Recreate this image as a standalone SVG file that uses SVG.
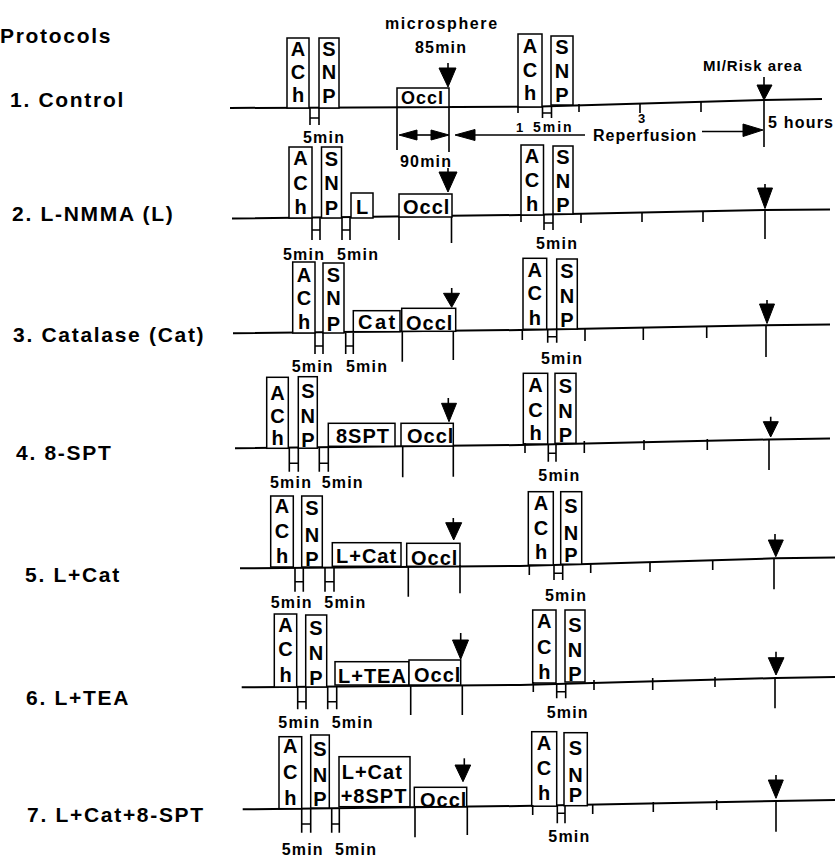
<svg xmlns="http://www.w3.org/2000/svg" width="835" height="858" viewBox="0 0 835 858">
<style>
text{font-family:"Liberation Sans",Arial,sans-serif;font-weight:bold;fill:#000}
.lab{font-size:21px;letter-spacing:1.7px}
.s{font-size:16px;letter-spacing:1.2px}
.v{font-size:20px;text-anchor:middle}
.bx{font-size:20px;letter-spacing:1px}
.ln{stroke:#000;stroke-width:1.6;fill:none}
.base{stroke:#000;stroke-width:2;fill:none}
.box{fill:#fff;stroke:#000;stroke-width:1.5}
.tri{fill:#000;stroke:#000;stroke-width:1}
</style>
<rect width="835" height="858" fill="#fff"/>

<g id="labels">
<text class="lab" x="0" y="43">Protocols</text>
<text class="lab" x="10" y="107">1. Control</text>
<text class="lab" x="12" y="221">2. L-NMMA (L)</text>
<text class="lab" x="13" y="342">3. Catalase (Cat)</text>
<text class="lab" x="16" y="460">4. 8-SPT</text>
<text class="lab" x="25" y="582">5. L+Cat</text>
<text class="lab" x="26" y="705">6. L+TEA</text>
<text class="lab" x="27" y="822">7. L+Cat+8-SPT</text>
</g>

<g id="row1">
<polyline class="base" points="230,108 540,106.5 764,100 822,99"/>
<rect class="box" x="287" y="38" width="22" height="70"/>
<text class="v" x="298" y="56">A</text><text class="v" x="298" y="79">C</text><text class="v" x="298" y="102">h</text>
<rect class="box" x="319" y="38" width="20" height="70"/>
<text class="v" x="329" y="56">S</text><text class="v" x="329" y="79">N</text><text class="v" x="329" y="103">P</text>
<path class="ln" d="M310,108V125M319,108V125M310,118H319"/>
<text class="s" x="303" y="143">5min</text>
<rect class="box" x="397" y="88" width="52" height="19"/>
<text class="bx" x="401" y="104" style="font-size:18px">Occl</text>
<text class="s" x="385" y="29" style="letter-spacing:1.6px">microsphere</text>
<text class="s" x="415" y="53">85min</text>
<path class="ln" d="M448,63V70"/>
<path class="tri" d="M439,68H456L448,87Z"/>
<path class="ln" d="M397,107V150M449,107V152"/>
<text class="s" x="400" y="167">90min</text>
<rect class="box" x="518" y="34" width="24" height="73"/>
<text class="v" x="530" y="53">A</text><text class="v" x="530" y="77">C</text><text class="v" x="530" y="100">h</text>
<rect class="box" x="551" y="36" width="22" height="69"/>
<text class="v" x="562" y="54">S</text><text class="v" x="562" y="78">N</text><text class="v" x="562" y="102">P</text>
<path class="ln" d="M542.5,106V118M551.5,106V118M542.5,113H551.5"/>
<path class="ln" d="M518,106V113M579,104V112M640,103V113M701,102V112"/>
<path class="ln" d="M764,77V86M764,100V147"/>
<path class="tri" d="M757,85H772L764,100Z"/>
<text class="s" x="703" y="71" style="font-size:15px;letter-spacing:1px">MI/Risk area</text>
<text class="s" x="768" y="128">5 hours</text>
<text class="s" x="516" y="132" style="font-size:13px">1</text>
<text class="s" x="533" y="132" style="font-size:14px;letter-spacing:2px">5min</text>
<text class="s" x="638" y="123" style="font-size:13px">3</text>
<text class="s" x="593" y="141" style="letter-spacing:1px">Reperfusion</text>
</g>

<g id="connectors">
<path class="ln" d="M412,135H434"/>
<path class="tri" d="M399,135L417,130V140Z"/>
<path class="tri" d="M449,135L431,130V140Z"/>
<path class="ln" d="M470,135H585"/>
<path class="tri" d="M455,135L475,129.5V140.5Z"/>
<path class="ln" d="M702,131.5H748"/>
<path class="tri" d="M763,130L743,124V136.5Z"/>
</g>

<g id="row2">
<polyline class="base" points="232,218.5 520,215 764,210 830,209.5"/>
<rect class="box" x="289" y="147" width="23" height="71"/>
<text class="v" x="300.5" y="165">A</text><text class="v" x="300.5" y="190">C</text><text class="v" x="300.5" y="214">h</text>
<rect class="box" x="321.5" y="147" width="20" height="71"/>
<text class="v" x="331.5" y="166">S</text><text class="v" x="331.5" y="190">N</text><text class="v" x="331.5" y="215">P</text>
<path class="ln" d="M312,218V240M320,218V240M312,230H320M342,218V240M350,218V240M342,230H350"/>
<text class="s" x="283" y="260">5min</text><text class="s" x="337" y="260">5min</text>
<rect class="box" x="351" y="193" width="22" height="25"/>
<text class="bx" x="356" y="214">L</text>
<rect class="box" x="399" y="194" width="53" height="23"/>
<text class="bx" x="403" y="214">Occl</text>
<path class="ln" d="M448,168V173"/>
<path class="tri" d="M439,172H457L448,192Z"/>
<path class="ln" d="M399,217V240M451.5,217V243"/>
<rect class="box" x="521" y="145" width="22.5" height="70"/>
<text class="v" x="532" y="163">A</text><text class="v" x="532" y="187">C</text><text class="v" x="532" y="211">h</text>
<rect class="box" x="553" y="146" width="20" height="68"/>
<text class="v" x="563" y="164">S</text><text class="v" x="563" y="188">N</text><text class="v" x="563" y="212">P</text>
<path class="ln" d="M544,214V230M553,214V230M544,223H553"/>
<text class="s" x="536" y="249">5min</text>
<path class="ln" d="M521,215V222M581,214V223M642,213V222M703,212V222"/>
<path class="ln" d="M765,184V189M765,209V239"/>
<path class="tri" d="M757.5,188H772.5L765,208.5Z"/>
</g>

<g id="row3">
<polyline class="base" points="233,333.3 520,330 764,325.3 830,324.5"/>
<rect class="box" x="292.7" y="262" width="22.3" height="71"/>
<text class="v" x="304" y="281.7">A</text><text class="v" x="304" y="305">C</text><text class="v" x="304" y="329">h</text>
<rect class="box" x="323" y="263" width="21" height="70"/>
<text class="v" x="333.5" y="281.7">S</text><text class="v" x="333.5" y="305">N</text><text class="v" x="333.5" y="330.5">P</text>
<path class="ln" d="M315,333V354M323,333V354M315,346H323M345.7,333V354M353.3,333V354M345.7,346H353.3"/>
<text class="s" x="291.7" y="372">5min</text><text class="s" x="346" y="372">5min</text>
<rect class="box" x="353.3" y="310.7" width="46.7" height="21"/>
<text class="bx" x="358" y="329" style="letter-spacing:2.5px">Cat</text>
<rect class="box" x="401.7" y="308.3" width="54" height="23"/>
<text class="bx" x="406" y="330">Occl</text>
<path class="ln" d="M451.7,288V294"/>
<path class="tri" d="M443.5,293.3H459.5L451.7,307.3Z"/>
<path class="ln" d="M402.3,331V361.7M453.3,331V360"/>
<rect class="box" x="523" y="258.3" width="23.7" height="71"/>
<text class="v" x="534.8" y="276.7">A</text><text class="v" x="534.8" y="300">C</text><text class="v" x="534.8" y="325">h</text>
<rect class="box" x="556.7" y="259" width="20.6" height="70"/>
<text class="v" x="567" y="278.3">S</text><text class="v" x="567" y="302.7">N</text><text class="v" x="567" y="326.7">P</text>
<path class="ln" d="M547.7,329V342.7M556.7,329V342.7M547.7,336.7H556.7"/>
<text class="s" x="541" y="364">5min</text>
<path class="ln" d="M522.3,330V340M585,328V341M643.3,327V340M706.7,326V338"/>
<path class="ln" d="M767,300V305M766,325V357"/>
<path class="tri" d="M759.5,304H774.5L767,323.5Z"/>
</g>

<g id="row4">
<polyline class="base" points="235,448.3 520,445 768,439.5 830,438.5"/>
<rect class="box" x="266.7" y="377.3" width="21.6" height="71"/>
<text class="v" x="277.5" y="400">A</text><text class="v" x="277.5" y="423.3">C</text><text class="v" x="277.5" y="445">h</text>
<rect class="box" x="298.3" y="376.7" width="19" height="71.5"/>
<text class="v" x="307.8" y="398.3">S</text><text class="v" x="307.8" y="423.3">N</text><text class="v" x="307.8" y="447">P</text>
<path class="ln" d="M289.3,448V471.7M298.3,448V471.7M289.3,463.3H298.3M319.3,448V471.7M328.3,448V471.7M319.3,463.3H328.3"/>
<text class="s" x="270" y="488.3">5min</text><text class="s" x="321.7" y="488.3">5min</text>
<rect class="box" x="328.3" y="423.3" width="66.7" height="23"/>
<text class="bx" x="336" y="443">8SPT</text>
<rect class="box" x="401" y="423.3" width="52.3" height="22.7"/>
<text class="bx" x="407" y="443">Occl</text>
<path class="ln" d="M448.3,398V404"/>
<path class="tri" d="M441.5,403.3H456.5L449,421.7Z"/>
<path class="ln" d="M402.7,446V477.3M453.3,446V476.7"/>
<rect class="box" x="523.3" y="373.3" width="24.4" height="70.7"/>
<text class="v" x="535.5" y="391.7">A</text><text class="v" x="535.5" y="416.7">C</text><text class="v" x="535.5" y="440">h</text>
<rect class="box" x="555" y="373.3" width="21" height="70"/>
<text class="v" x="565.5" y="393.3">S</text><text class="v" x="565.5" y="418.3">N</text><text class="v" x="565.5" y="442">P</text>
<path class="ln" d="M548.3,444V461.7M556,444V461.7M548.3,453.3H556"/>
<text class="s" x="538.3" y="480.7">5min</text>
<path class="ln" d="M525,443V453M584.3,441V453M644,440V450M707.3,439V450"/>
<path class="ln" d="M770.7,416.7V422M769,439.5V470"/>
<path class="tri" d="M763.3,421.7H778.3L770.7,437Z"/>
</g>

<g id="row5">
<polyline class="base" points="240,568.3 520,566 775,558.3 835,557.5"/>
<rect class="box" x="270.7" y="496" width="22.6" height="71"/>
<text class="v" x="282" y="513.3">A</text><text class="v" x="282" y="538.3">C</text><text class="v" x="282" y="563.3">h</text>
<rect class="box" x="301.7" y="496" width="20.6" height="71"/>
<text class="v" x="312" y="515">S</text><text class="v" x="312" y="541.7">N</text><text class="v" x="312" y="566">P</text>
<path class="ln" d="M295,567V591.7M303.3,567V591.7M295,581.7H303.3M325,567V591.7M334,567V591.7M325,581.7H334"/>
<text class="s" x="270.7" y="608.3">5min</text><text class="s" x="324.3" y="608.3">5min</text>
<rect class="box" x="332.3" y="542.7" width="68.7" height="23.6"/>
<text class="bx" x="336" y="563.3">L+Cat</text>
<rect class="box" x="406.7" y="543.3" width="53.3" height="23"/>
<text class="bx" x="411" y="565">Occl</text>
<path class="ln" d="M453.3,518V523"/>
<path class="tri" d="M445.7,522.7H461.7L453.7,540Z"/>
<path class="ln" d="M408.3,567V596.7M460,565V593.3"/>
<rect class="box" x="528.3" y="491.7" width="25" height="73.3"/>
<text class="v" x="541" y="510">A</text><text class="v" x="541" y="535">C</text><text class="v" x="541" y="559.3">h</text>
<rect class="box" x="560.7" y="491.7" width="21" height="72.5"/>
<text class="v" x="571" y="513.3">S</text><text class="v" x="571" y="540">N</text><text class="v" x="571" y="561.7">P</text>
<path class="ln" d="M554,565V580M562.7,565V580M554,573.3H562.7"/>
<text class="s" x="545" y="600.7">5min</text>
<path class="ln" d="M529.3,565V575M590.7,563V573M650,562V572M712.7,560V570"/>
<path class="ln" d="M775,534V541M774,558V589.3"/>
<path class="tri" d="M768.3,540H783.3L775.8,556.7Z"/>
</g>

<g id="row6">
<polyline class="base" points="241.7,687.3 520,685 776,678 835,677"/>
<rect class="box" x="274.3" y="614" width="22.4" height="73"/>
<text class="v" x="285.5" y="631.7">A</text><text class="v" x="285.5" y="656">C</text><text class="v" x="285.5" y="681.7">h</text>
<rect class="box" x="305.7" y="615" width="21" height="72"/>
<text class="v" x="316" y="635">S</text><text class="v" x="316" y="660">N</text><text class="v" x="316" y="685">P</text>
<path class="ln" d="M297.7,687V709.3M306,687V709.3M297.7,701.7H306M327.7,687V709.3M336.7,687V709.3M327.7,701.7H336.7"/>
<text class="s" x="278.3" y="728.3">5min</text><text class="s" x="331.7" y="728.3">5min</text>
<rect class="box" x="335" y="661.7" width="74" height="23.3"/>
<text class="bx" x="338" y="683.3">L+TEA</text>
<rect class="box" x="409" y="660" width="51.7" height="25"/>
<text class="bx" x="414" y="681.7">Occl</text>
<path class="ln" d="M460.7,633V641"/>
<path class="tri" d="M452.5,640H468.5L460.7,659.3Z"/>
<path class="ln" d="M410.7,685V715M462.3,685V715"/>
<rect class="box" x="532.7" y="610" width="23.3" height="73"/>
<text class="v" x="544.3" y="628.3">A</text><text class="v" x="544.3" y="654">C</text><text class="v" x="544.3" y="679.3">h</text>
<rect class="box" x="565" y="610" width="20" height="72"/>
<text class="v" x="575" y="631.7">S</text><text class="v" x="575" y="656.7">N</text><text class="v" x="575" y="680.7">P</text>
<path class="ln" d="M556.7,683V698.3M565.7,683V698.3M556.7,691.7H565.7"/>
<text class="s" x="546.7" y="718.3">5min</text>
<path class="ln" d="M533.3,682V692M594,680V690M652.7,678V690M715,677V687"/>
<path class="ln" d="M776,651.7V658M775,677V708.3"/>
<path class="tri" d="M768.3,657.7H784L776,675Z"/>
</g>

<g id="row7">
<polyline class="base" points="242.7,809.3 520,806 776,801 835,800"/>
<rect class="box" x="279" y="736.7" width="22.7" height="72"/>
<text class="v" x="290.3" y="753.3">A</text><text class="v" x="290.3" y="779.3">C</text><text class="v" x="290.3" y="805">h</text>
<rect class="box" x="310.7" y="735" width="18.6" height="73"/>
<text class="v" x="320" y="756">S</text><text class="v" x="320" y="781.7">N</text><text class="v" x="320" y="806">P</text>
<path class="ln" d="M301.7,808V832.7M310.7,808V832.7M301.7,824H310.7M331.7,808V832.7M339.3,808V832.7M331.7,824H339.3"/>
<text class="s" x="281.7" y="855">5min</text><text class="s" x="335" y="855">5min</text>
<rect class="box" x="339" y="756.7" width="71" height="50"/>
<text class="bx" x="341.7" y="779.3">L+Cat</text>
<text class="bx" x="340.7" y="803.3">+8SPT</text>
<rect class="box" x="414.3" y="787.3" width="52.4" height="19.4"/>
<text class="bx" x="420" y="807">Occl</text>
<path class="ln" d="M464.3,758.3V766"/>
<path class="tri" d="M455,765H470.7L463,781.7Z"/>
<path class="ln" d="M415,806V837.3M467.3,806V835"/>
<rect class="box" x="531.7" y="731.7" width="25" height="74.5"/>
<text class="v" x="544" y="750">A</text><text class="v" x="544" y="775">C</text><text class="v" x="544" y="800">h</text>
<rect class="box" x="564" y="732.7" width="23.3" height="73"/>
<text class="v" x="575.5" y="755">S</text><text class="v" x="575.5" y="781.7">N</text><text class="v" x="575.5" y="801.7">P</text>
<path class="ln" d="M557.3,806V823.3M565,806V823.3M557.3,813.3H565"/>
<text class="s" x="548.3" y="841.7">5min</text>
<path class="ln" d="M532.7,805V815M592.7,804V814M653.3,802V812M716.7,800V810"/>
<path class="ln" d="M776,775V781M776,801V831.7"/>
<path class="tri" d="M768.3,780H783.3L776,798.3Z"/>
</g>
</svg>
